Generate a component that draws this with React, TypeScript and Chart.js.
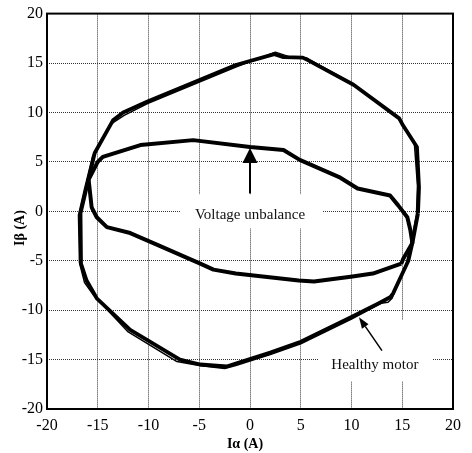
import React, { useEffect, useRef } from 'react';
import { Chart, registerables } from 'chart.js';

Chart.register(...registerables);

// Healthy motor current trajectory (main cycle)
const healthyAlpha = [16.55, 16.65, 16.45, 15.07, 14.7, 10.2, 5.7, 5.2, 3.3, 2.4, -1.4, -10.1, -12.5, -13.5, -15.3, -16.1, -16.7, -16.65, -16.1, -15.1, -11.8, -6.9, -4.9, -2.3, -1.4, 2.0, 5.0, 10.0, 12.7, 13.8, 14.1, 15.6, 16.06, 16.55];
const healthyBeta = [-0.2, 2.4, 6.5, 8.7, 9.4, 12.8, 15.3, 15.55, 15.6, 15.9, 14.8, 11.1, 10.0, 9.2, 5.9, 2.4, -0.2, -5.3, -7.0, -8.8, -12.0, -15.0, -15.5, -15.7, -15.4, -14.3, -13.2, -10.7, -9.3, -8.7, -8.3, -5.0, -2.9, -0.2];

// Healthy motor current trajectory (second cycle, thin strand)
const healthy2Alpha = [16.4, 16.5, 16.2, 14.9, 14.5, 10.0, 5.6, 4.0, 2.5, -1.4, -10.1, -12.4, -13.6, -15.5, -16.3, -16.9, -16.8, -16.3, -15.4, -12.0, -7.2, -5.0, -2.5, -1.4, 2.0, 5.0, 10.0, 12.9, 13.6, 14.0, 15.4, 15.9, 16.4];
const healthy2Beta = [-0.3, 2.6, 6.8, 8.9, 9.6, 13.0, 15.5, 15.6, 16.1, 14.6, 10.9, 9.7, 8.9, 5.6, 2.3, -0.4, -5.2, -7.2, -8.5, -12.2, -15.2, -15.6, -15.9, -15.6, -14.5, -13.4, -10.9, -9.3, -9.2, -8.8, -5.3, -3.0, -0.3];

// Voltage unbalance current trajectory
const unbalAlpha = [14.9, 12.1, 10.1, 6.3, 4.8, -1.4, -3.6, -4.9, -8.9, -11.8, -14.1, -15.1, -15.6, -15.9, -15.0, -14.5, -10.8, -5.6, 0.0, 3.3, 4.9, 8.9, 10.6, 13.8, 14.6, 15.5, 15.8, 16.0, 15.1, 14.9];
const unbalBeta = [-5.3, -6.3, -6.6, -7.1, -7.0, -6.3, -5.9, -5.3, -3.5, -2.2, -1.6, -0.6, 0.4, 3.2, 5.0, 5.5, 6.7, 7.2, 6.5, 6.2, 5.2, 3.4, 2.3, 1.6, 0.6, -0.6, -1.9, -3.2, -4.8, -5.3];

const tickValues = [-20, -15, -10, -5, 0, 5, 10, 15, 20];

const labelTexts = ['Voltage unbalance', 'Healthy motor'];

const SERIF = '"Liberation Serif", "Times New Roman", serif';

function pts(xs: number[], ys: number[]) {
  return xs.map((x, i) => ({ x, y: ys[i] }));
}

const annotationPlugin = {
  id: 'annots',
  beforeDatasetsDraw(chart: any) {
    const { ctx, scales } = chart;
    const xs = scales.x;
    const ys = scales.y;
    ctx.save();
    ctx.fillStyle = '#fff';
    const boxes = [
      [-6.9, 1.72, 7.1, -1.72],
      [6.7, -11.0, 18.0, -17.2],
    ];
    for (const b of boxes) {
      const x1 = xs.getPixelForValue(b[0]);
      const y1 = ys.getPixelForValue(b[1]);
      const x2 = xs.getPixelForValue(b[2]);
      const y2 = ys.getPixelForValue(b[3]);
      ctx.fillRect(x1, y1, x2 - x1, y2 - y1);
    }
    ctx.restore();
  },
  afterDatasetsDraw(chart: any) {
    const { ctx, scales, chartArea } = chart;
    const xs = scales.x;
    const ys = scales.y;
    ctx.save();
    ctx.font = '15px ' + SERIF;
    ctx.fillStyle = '#111';
    ctx.textAlign = 'center';
    ctx.textBaseline = 'middle';
    ctx.fillText(labelTexts[0], xs.getPixelForValue(0), ys.getPixelForValue(-0.4));
    ctx.fillText(labelTexts[1], xs.getPixelForValue(12.3), ys.getPixelForValue(-15.6));

    const drawArrow = (sx: number, sy: number, tx: number, ty: number, len: number, half: number, lw: number) => {
      const ang = Math.atan2(ty - sy, tx - sx);
      const bx = tx - Math.cos(ang) * len;
      const by = ty - Math.sin(ang) * len;
      ctx.strokeStyle = '#000';
      ctx.lineWidth = lw;
      ctx.beginPath();
      ctx.moveTo(sx, sy);
      ctx.lineTo(bx, by);
      ctx.stroke();
      ctx.fillStyle = '#000';
      ctx.beginPath();
      ctx.moveTo(tx, ty);
      ctx.lineTo(bx + Math.sin(ang) * half, by - Math.cos(ang) * half);
      ctx.lineTo(bx - Math.sin(ang) * half, by + Math.cos(ang) * half);
      ctx.closePath();
      ctx.fill();
    };
    drawArrow(xs.getPixelForValue(0), ys.getPixelForValue(1.8), xs.getPixelForValue(0), ys.getPixelForValue(6.4), 15, 7.5, 2);
    drawArrow(xs.getPixelForValue(13.0), ys.getPixelForValue(-14.1), xs.getPixelForValue(10.74), ys.getPixelForValue(-10.73), 11, 4, 1.5);

    ctx.strokeStyle = '#000';
    ctx.lineWidth = 2;
    ctx.strokeRect(chartArea.left, chartArea.top, chartArea.right - chartArea.left, chartArea.bottom - chartArea.top);
    ctx.restore();
  },
  afterDraw(chart: any) {
    const { ctx } = chart;
    ctx.save();
    ctx.fillStyle = '#000';
    ctx.font = 'bold 14px ' + SERIF;
    ctx.textAlign = 'center';
    ctx.textBaseline = 'middle';
    ctx.fillText('Iα (A)', 245, 444);
    ctx.translate(20, 228);
    ctx.rotate(-Math.PI / 2);
    ctx.fillText('Iβ (A)', 0, 0);
    ctx.restore();
  },
};

export default function App() {
  const ref = useRef<HTMLCanvasElement | null>(null);
  useEffect(() => {
    if (!ref.current) return;
    const line = (data: any, w: number) => ({
      data,
      showLine: true,
      borderColor: '#000',
      backgroundColor: '#000',
      borderWidth: w,
      pointRadius: 0,
      pointHoverRadius: 0,
      fill: false,
      tension: 0,
      borderJoinStyle: 'round',
    });
    const chart = new Chart(ref.current, {
      type: 'scatter',
      data: {
        datasets: [
          line(pts(healthy2Alpha, healthy2Beta), 1.5),
          line(pts(healthyAlpha, healthyBeta), 3.8),
          line(pts(unbalAlpha, unbalBeta), 4),
        ] as any,
      },
      options: {
        animation: false,
        responsive: false,
        events: [],
        layout: { padding: { top: 13, right: 19, left: 0, bottom: 0 } },
        plugins: { legend: { display: false }, tooltip: { enabled: false } },
        scales: {
          x: {
            type: 'linear',
            min: -20,
            max: 20,
            afterBuildTicks: (s: any) => { s.ticks = tickValues.map((v) => ({ value: v })); },
            afterFit: (s: any) => { s.height = 44; },
            ticks: { font: { family: SERIF, size: 16 }, color: '#000', padding: 7, maxRotation: 0, autoSkip: false },
            grid: { color: '#333', lineWidth: 1, drawTicks: false },
            border: { display: false, dash: [1, 1] },
          },
          y: {
            type: 'linear',
            min: -20,
            max: 20,
            afterBuildTicks: (s: any) => { s.ticks = tickValues.map((v) => ({ value: v })); },
            afterFit: (s: any) => { s.width = 47; },
            ticks: { font: { family: SERIF, size: 16 }, color: '#000', padding: 4, autoSkip: false },
            grid: { color: '#333', lineWidth: 1, drawTicks: false },
            border: { display: false, dash: [1, 1] },
          },
        },
      } as any,
      plugins: [annotationPlugin],
    });
    return () => chart.destroy();
  }, []);
  return (
    <div style={{ position: 'fixed', left: 0, top: 0, width: 472, height: 453, background: '#fff' }}>
      <canvas ref={ref} width={472} height={453} style={{ display: 'block' }} />
    </div>
  );
}
